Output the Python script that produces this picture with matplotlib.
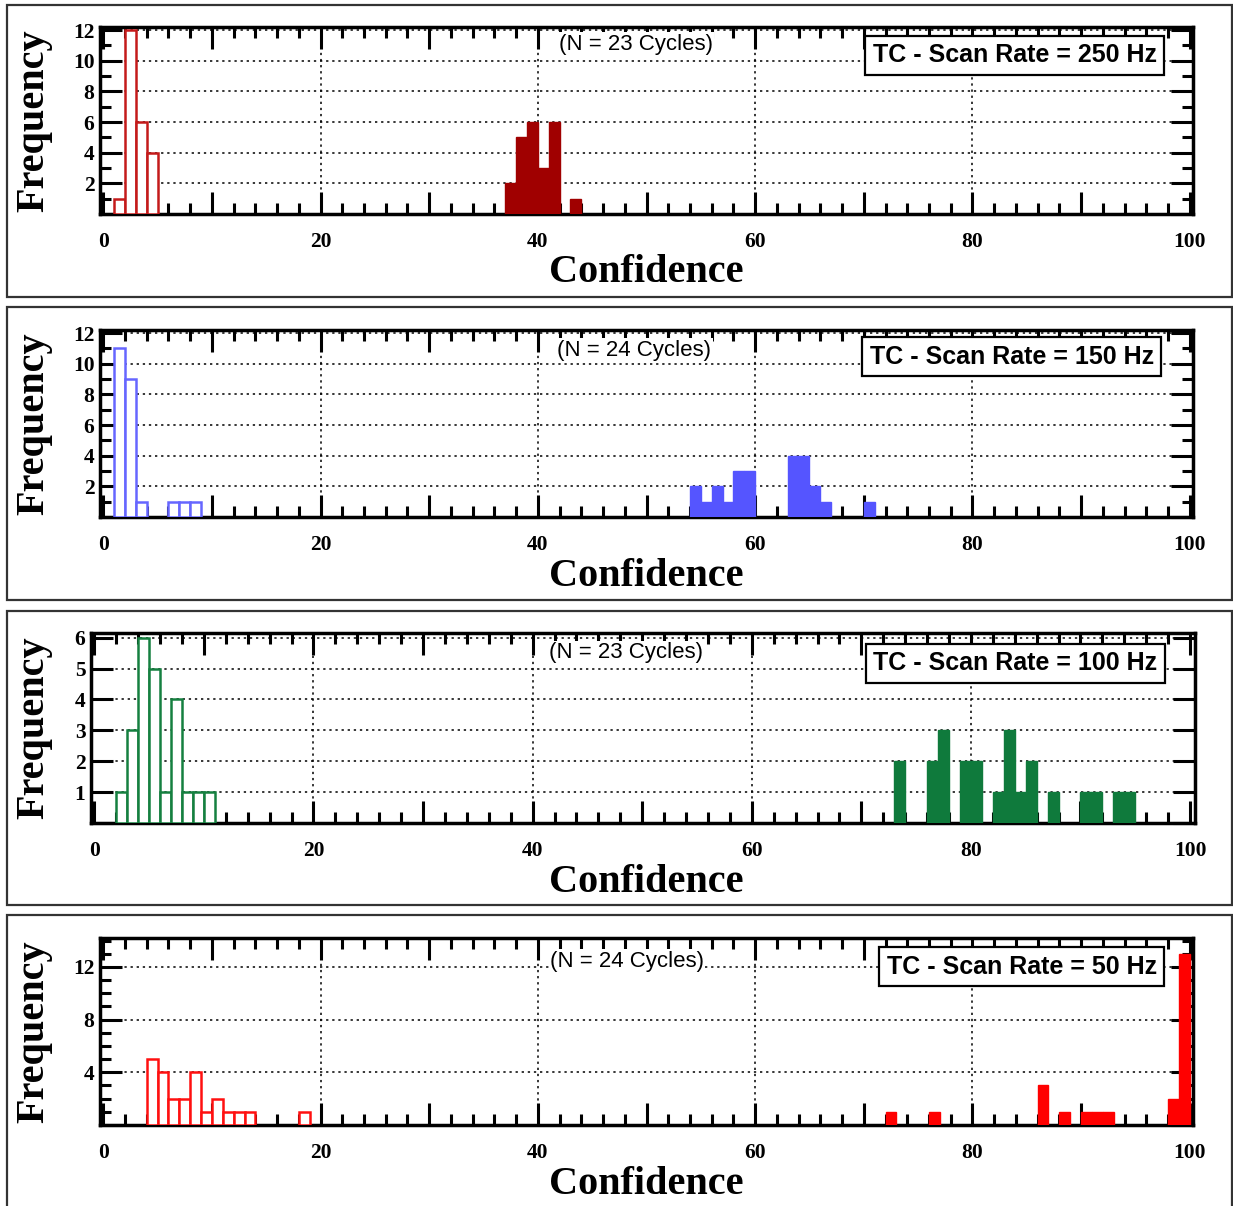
import matplotlib.pyplot as plt
from matplotlib.ticker import MultipleLocator, FuncFormatter
from matplotlib.patches import Rectangle

W, H = 1233, 1206

# --- data: bin left edges (bin width 1) and counts, low / high confidence groups
lo250_bins = [1, 2, 3, 4]
lo250_counts = [1, 12, 6, 4]
hi250_bins = [37, 38, 39, 40, 41, 43]
hi250_counts = [2, 5, 6, 3, 6, 1]

lo150_bins = [1, 2, 3, 6, 7, 8]
lo150_counts = [11, 9, 1, 1, 1, 1]
hi150_bins = [54, 55, 56, 57, 58, 59, 63, 64, 65, 66, 70]
hi150_counts = [2, 1, 2, 1, 3, 3, 4, 4, 2, 1, 1]

lo100_bins = [2, 3, 4, 5, 6, 7, 8, 9, 10]
lo100_counts = [1, 3, 6, 5, 1, 4, 1, 1, 1]
hi100_bins = [73, 76, 77, 79, 80, 82, 83, 84, 85, 87, 90, 91, 93, 94]
hi100_counts = [2, 2, 3, 2, 2, 1, 3, 1, 2, 1, 1, 1, 1, 1]

lo50_bins = [4, 5, 6, 7, 8, 9, 10, 11, 12, 13, 18]
lo50_counts = [5, 4, 2, 2, 4, 1, 2, 1, 1, 1, 1]
hi50_bins = [72, 76, 86, 88, 90, 91, 92, 98, 99]
hi50_counts = [1, 1, 3, 1, 1, 1, 1, 2, 13]

rates = ["250", "150", "100", "50"]
cycles = [23, 24, 23, 24]

panels = [
    dict(lo=(lo250_bins, lo250_counts), hi=(hi250_bins, hi250_counts),
         c_lo="#c41a1a", c_hi="#a00000", box=(100, 27, 1193, 214),
         ylim=12.2, ymaj=2, ymin=1, xlim=(-0.3, 100.3), outer=(5, 297),
         n_pos=(0.49, 0.909), tag_pos=(0.967, 0.85)),
    dict(lo=(lo150_bins, lo150_counts), hi=(hi150_bins, hi150_counts),
         c_lo="#6666ff", c_hi="#5555ff", box=(100, 330, 1193, 517),
         ylim=12.2, ymaj=2, ymin=1, xlim=(-0.3, 100.3), outer=(307, 600),
         n_pos=(0.489, 0.893), tag_pos=(0.964, 0.856)),
    dict(lo=(lo100_bins, lo100_counts), hi=(hi100_bins, hi100_counts),
         c_lo="#158040", c_hi="#0f7a3c", box=(91, 633, 1195, 823),
         ylim=6.15, ymaj=1, ymin=None, xlim=(-0.3, 100.45), outer=(611, 905),
         n_pos=(0.485, 0.895), tag_pos=(0.966, 0.842)),
    dict(lo=(lo50_bins, lo50_counts), hi=(hi50_bins, hi50_counts),
         c_lo="#ff1010", c_hi="#ff0000", box=(100, 938, 1193, 1125),
         ylim=14.2, ymaj=4, ymin=1, xlim=(-0.3, 100.3), outer=(915, 1210),
         n_pos=(0.482, 0.877), tag_pos=(0.967, 0.845)),
]

serif = "Liberation Serif"
sans = "Liberation Sans"

fig = plt.figure(figsize=(W / 100, H / 100), dpi=100)

for i, p in enumerate(panels):
    # outer panel frame
    o_top, o_bot = p["outer"]
    fig.patches.append(Rectangle((7 / W, 1 - o_bot / H), (W - 8) / W, (o_bot - o_top) / H,
                                 transform=fig.transFigure, fill=False,
                                 ec="#333333", lw=1.6))
    l, t, r, b = p["box"]
    ax = fig.add_axes([l / W, 1 - b / H, (r - l) / W, (b - t) / H])

    lb, lc = p["lo"]
    hb, hc = p["hi"]
    ax.bar(lb, lc, width=1, align="edge", facecolor="white",
           edgecolor=p["c_lo"], linewidth=1.8, zorder=3)
    ax.bar(hb, hc, width=1, align="edge", facecolor=p["c_hi"],
           edgecolor=p["c_hi"], linewidth=1, zorder=3)

    ax.set_xlim(*p["xlim"])
    ax.set_ylim(0, p["ylim"])

    ax.xaxis.set_major_locator(MultipleLocator(10))
    ax.xaxis.set_minor_locator(MultipleLocator(2))
    ax.xaxis.set_major_formatter(FuncFormatter(
        lambda v, pos: f"{int(round(v))}" if round(v) % 20 == 0 else ""))
    ax.yaxis.set_major_locator(MultipleLocator(p["ymaj"]))
    if p["ymin"]:
        ax.yaxis.set_minor_locator(MultipleLocator(p["ymin"]))
    ax.yaxis.set_major_formatter(FuncFormatter(
        lambda v, pos: "" if v < 0.5 else f"{int(round(v))}"))

    ax.tick_params(which="both", direction="in", top=True, right=True, width=2.2)
    ax.tick_params(which="major", length=16)
    ax.tick_params(which="minor", length=8)
    ax.tick_params(axis="x", which="major", pad=13)
    ax.tick_params(axis="y", which="major", pad=4)
    for lab in ax.get_xticklabels() + ax.get_yticklabels():
        lab.set_fontfamily(serif)
        lab.set_fontweight("bold")
        lab.set_fontsize(15.5)

    ax.grid(axis="y", which="major", linestyle=(0, (1.5, 2.5)), color="black",
            linewidth=1.1, zorder=1)
    for gx in [20, 40, 60, 80]:
        ax.axvline(gx, linestyle=(0, (1.5, 2.5)), color="black",
                   linewidth=1.1, zorder=1)

    for s in ax.spines.values():
        s.set_linewidth(2.5)

    ax.set_xlabel("Confidence", fontfamily=serif, fontweight="bold", fontsize=29)
    ax.set_ylabel("Frequency", fontfamily=serif, fontweight="bold", fontsize=29)
    ax.xaxis.set_label_coords((646 - l) / (r - l), -59 / (b - t))
    ax.xaxis.label.set_va("center")
    ax.yaxis.set_label_coords((34 - l) / (r - l), 0.5)
    ax.yaxis.label.set_va("center")

    ax.text(*p["n_pos"], f"(N = {cycles[i]} Cycles)", transform=ax.transAxes,
            ha="center", va="center", fontfamily=sans, fontsize=16, zorder=4,
            bbox=dict(boxstyle="square,pad=0.05", fc="white", ec="none"))
    ax.text(*p["tag_pos"], f"TC - Scan Rate = {rates[i]} Hz", transform=ax.transAxes,
            ha="right", va="center", fontfamily=sans, fontweight="bold",
            fontsize=18, zorder=5,
            bbox=dict(boxstyle="square,pad=0.3", fc="white", ec="black", lw=1.6))

fig.savefig("out.png", dpi=100)
